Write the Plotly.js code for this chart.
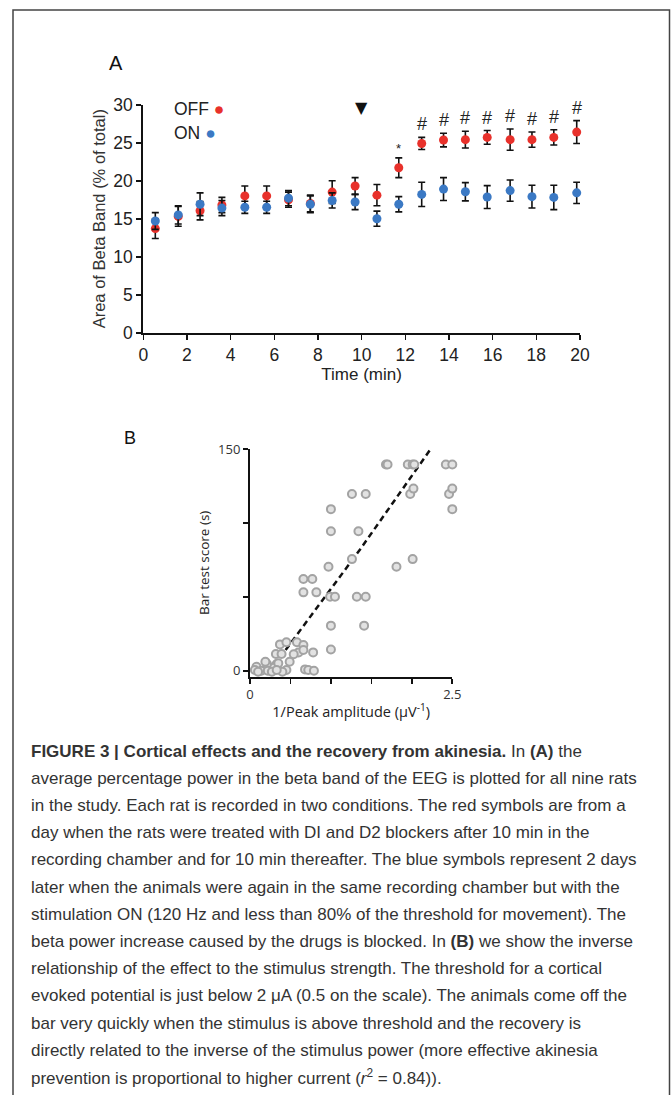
<!DOCTYPE html>
<html>
<head>
<meta charset="utf-8">
<script src="https://cdn.plot.ly/plotly-3.0.1.min.js"></script>
<style>
html,body{margin:0;padding:0;background:#fff;}
#chart{width:671px;height:1095px;}
</style>
</head>
<body>
<div id="chart"></div>
<script>
// ---------- Panel A data ----------
const timeMin = [0.55,1.6,2.6,3.6,4.65,5.65,6.65,7.65,8.65,9.7,10.7,11.7,12.75,13.75,14.75,15.75,16.8,17.8,18.8,19.85];
const offMean = [13.7,15.3,16.05,16.8,18.0,18.0,17.5,17.0,18.5,19.3,18.1,21.7,24.9,25.35,25.4,25.7,25.4,25.4,25.7,26.4];
const offErr  = [1.3,1.3,1.2,1.0,1.3,1.3,1.0,1.1,1.5,1.1,1.4,1.3,0.8,0.9,1.1,0.9,1.4,1.0,1.0,1.5];
const onMean  = [14.7,15.5,16.9,16.4,16.5,16.5,17.7,16.9,17.4,17.2,15.0,16.9,18.2,18.9,18.55,17.85,18.7,17.9,17.8,18.4];
const onErr   = [1.1,1.2,1.5,1.0,0.8,0.8,1.0,1.1,1.0,1.0,1.0,1.0,1.6,1.5,1.2,1.5,1.4,1.5,1.6,1.4];
const sigLabels = ['','','','','','','','','','','','*','#','#','#','#','#','#','#','#'];
const drugOnset = 10;
const xTicksA = [0,2,4,6,8,10,12,14,16,18,20];
const yTicksA = [0,5,10,15,20,25,30];

// ---------- Panel B data ----------
const invAmp = [1.68,1.70,1.95,2.01,2.03,2.42,2.50,
  1.26,1.43,1.98,2.46,2.02,2.50,1.0,2.5,1.0,1.34,1.26,2.01,0.97,1.81,
  0.66,0.77,0.66,0.82,0.99,1.05,1.32,1.43,1.0,1.41,1.0,
  0.37,0.45,0.58,0.66,0.32,0.39,0.60,0.66,0.54,0.49,0.68,0.72,0.79,0.78,0.45,
  0.33,0.29,0.21,0.19,0.08,0.06,0.14,0.22,0.27,0.35,0.40,0.33,0.10];
const barScore = [139.5,139.5,139.5,139.5,139.5,139.5,139.5,
  119.6,119.6,119.6,119.6,123.2,123.2,109.3,109.3,94.4,94.4,75.5,75.5,70.3,70.3,
  62,62,53,53,50,50,50,50,30.5,30.5,14.4,
  17.8,19.2,19.2,17.4,11.3,11.3,12.4,14,11.1,6.1,0.9,0.5,0,12.4,0.5,
  4.5,2,4.5,6.1,2.7,0.5,0,0,-0.7,5,-0.7,0.5,-0.7];
const fitX = [0.44,1.36,2.22];
const fitY = [14,82,149];
const xTicksB = [0,0.5,1,1.5,2,2.5];
const xTickTextB = ['0','','','','','2.5'];
const yTicksB = [0,50,100,150];
const yTickTextB = ['0','','','150'];

// ---------- Caption ----------
const captionLines = [
  '<b>FIGURE 3 | Cortical effects and the recovery from akinesia.</b> In <b>(A)</b> the',
  'average percentage power in the beta band of the EEG is plotted for all nine rats',
  'in the study. Each rat is recorded in two conditions. The red symbols are from a',
  'day when the rats were treated with DI and D2 blockers after 10 min in the',
  'recording chamber and for 10 min thereafter. The blue symbols represent 2 days',
  'later when the animals were again in the same recording chamber but with the',
  'stimulation ON (120 Hz and less than 80% of the threshold for movement). The',
  'beta power increase caused by the drugs is blocked. In <b>(B)</b> we show the inverse',
  'relationship of the effect to the stimulus strength. The threshold for a cortical',
  'evoked potential is just below 2 \u03bcA (0.5 on the scale). The animals come off the',
  'bar very quickly when the stimulus is above threshold and the recovery is',
  'directly related to the inverse of the stimulus power (more effective akinesia',
  'prevention is proportional to higher current (<i>r</i><sup>2</sup> = 0.84)).'
];

// ---------- helpers (pixel -> paper) ----------
const W = 671, H = 1095;
const px = v => v / W;
const py = v => 1 - v / H;

const RED = '#e8312b', BLUE = '#3b79c4';
const fA = '"Liberation Sans", Arial, sans-serif';
const fB = '"Open Sans", "Noto Sans", sans-serif';
const fC = '"Liberation Sans", Arial, sans-serif';

const traces = [
  {type:'scatter', mode:'markers', x: timeMin, y: offMean, xaxis:'x', yaxis:'y',
   marker:{color:RED, size:9}, cliponaxis:false,
   error_y:{type:'data', array: offErr, visible:true, color:'#111', thickness:1.6, width:3.5}},
  {type:'scatter', mode:'markers', x: timeMin, y: onMean, xaxis:'x', yaxis:'y',
   marker:{color:BLUE, size:9}, cliponaxis:false,
   error_y:{type:'data', array: onErr, visible:true, color:'#111', thickness:1.6, width:3.5}},
  {type:'scatter', mode:'lines', x: fitX, y: fitY, xaxis:'x2', yaxis:'y2',
   line:{color:'#111', width:2.5, dash:'6px,4px'}, cliponaxis:false},
  {type:'scatter', mode:'markers', x: invAmp, y: barScore, xaxis:'x2', yaxis:'y2',
   marker:{color:'#e2e2e2', size:8, line:{color:'#a3a3a3', width:2}}, cliponaxis:false}
];

const annotations = [];
sigLabels.forEach((s, i) => {
  if (!s) return;
  annotations.push({xref:'x', yref:'y', x: timeMin[i], y: offMean[i] + offErr[i],
    text: s, showarrow:false, yanchor:'bottom', yshift: s === '*' ? 0 : 1,
    font:{family:fA, size: s === '*' ? 13 : 18, color:'#222'}});
});
annotations.push({xref:'x', yref:'y', x: drugOnset, y: 29.6, text:'\u25bc', showarrow:false,
  font:{family:'"DejaVu Sans", sans-serif', size:16, color:'#111'}});
annotations.push({xref:'paper', yref:'paper', x: px(172), y: py(109), xanchor:'left', yanchor:'middle',
  text:'OFF <span style="color:'+RED+'">\u25cf</span>', showarrow:false, font:{family:fA, size:17.5, color:'#222'}});
annotations.push({xref:'paper', yref:'paper', x: px(172), y: py(133), xanchor:'left', yanchor:'middle',
  text:'ON <span style="color:'+BLUE+'">\u25cf</span>', showarrow:false, font:{family:fA, size:17.5, color:'#222'}});
annotations.push({xref:'paper', yref:'paper', x: px(107), y: py(63), xanchor:'left', yanchor:'middle',
  text:'A', showarrow:false, font:{family:fA, size:20, color:'#111'}});
annotations.push({xref:'paper', yref:'paper', x: px(122), y: py(438), xanchor:'left', yanchor:'middle',
  text:'B', showarrow:false, font:{family:fA, size:18, color:'#111'}});
captionLines.forEach((t, i) => {
  annotations.push({xref:'paper', yref:'paper', x: px(29), y: py(751 + i * 27.2), xanchor:'left', yanchor:'middle',
    text: t, showarrow:false, align:'left', font:{family:fC, size:17, color:'#333'}});
});

const layout = {
  width: W, height: H, margin:{l:0, r:0, t:0, b:0},
  paper_bgcolor:'#fff', plot_bgcolor:'rgba(0,0,0,0)', showlegend:false,
  xaxis:{domain:[px(143.3), px(580)], range:[0,20], anchor:'y', tickvals:xTicksA,
    ticks:'outside', ticklen:5, tickwidth:1.6, tickcolor:'#111', showline:true, linecolor:'#111', linewidth:2,
    showgrid:false, zeroline:false, tickfont:{family:fA, size:17.5, color:'#222'},
    title:{text:'Time (min)', font:{family:fA, size:17, color:'#222'}, standoff:2}},
  yaxis:{domain:[py(332.7), py(104.7)], range:[0,30], anchor:'x', tickvals:yTicksA,
    ticks:'outside', ticklen:5, tickwidth:1.6, tickcolor:'#111', showline:true, linecolor:'#111', linewidth:2,
    showgrid:false, zeroline:false, tickfont:{family:fA, size:17.5, color:'#222'},
    title:{text:'Area of Beta Band (% of total)', font:{family:fA, size:16.5, color:'#333'}, standoff:4}},
  xaxis2:{domain:[px(250), px(452.3)], range:[0,2.5], anchor:'y2', tickvals:xTicksB, ticktext:xTickTextB,
    ticks:'outside', ticklen:5, tickwidth:1.6, tickcolor:'#111', showline:true, linecolor:'#111', linewidth:2,
    showgrid:false, zeroline:false, tickfont:{family:fB, size:13, color:'#333'},
    title:{text:'1/Peak amplitude (\u03bcV<sup>-1</sup>)', font:{family:fB, size:14.5, color:'#222'}, standoff:5}},
  yaxis2:{domain:[py(676.7), py(449)], range:[-4.05,150], anchor:'x2', tickvals:yTicksB, ticktext:yTickTextB,
    ticks:'outside', ticklen:5, tickwidth:1.6, tickcolor:'#111', showline:true, linecolor:'#111', linewidth:2,
    showgrid:false, zeroline:false, tickfont:{family:fB, size:13, color:'#333'},
    title:{text:'Bar test score (s)', font:{family:fB, size:13.5, color:'#222'}, standoff:5}},
  annotations: annotations,
  shapes:[
    {type:'path', xref:'paper', yref:'paper',
     path:'M '+px(13)+' '+py(1095)+' L '+px(13)+' '+py(10)+' L '+px(669.5)+' '+py(10)+' L '+px(669.5)+' '+py(1095),
     line:{color:'#444', width:1.5}}
  ]
};

Plotly.newPlot('chart', traces, layout, {displayModeBar:false, staticPlot:true});
</script>
</body>
</html>
